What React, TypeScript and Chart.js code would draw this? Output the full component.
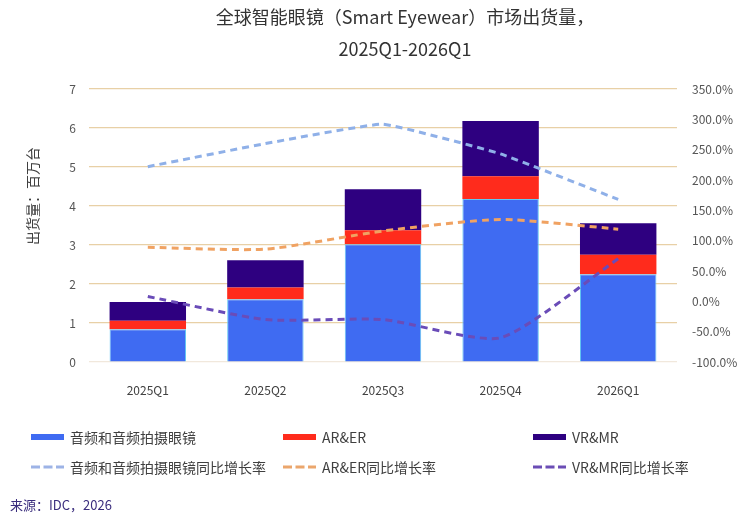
import React, { useEffect, useRef } from 'react';
import { Chart, registerables } from 'chart.js';

Chart.register(...registerables);

const quarters = ['2025Q1', '2025Q2', '2025Q3', '2025Q4', '2026Q1'];

// shipments, millions of units
const audioGlasses = [0.84, 1.61, 3.02, 4.18, 2.25];
const arEr = [0.22, 0.3, 0.36, 0.58, 0.5];
const vrMr = [0.48, 0.7, 1.05, 1.42, 0.81];

// year-over-year growth, %
const audioGrowth = [222, 260, 292, 243, 168];
const arErGrowth = [89, 86, 116, 135, 119];
const vrMrGrowth = [8, -30, -30, -60, 70];

const leftTicks = [0, 1, 2, 3, 4, 5, 6, 7];
const rightTicks = [-100, -50, 0, 50, 100, 150, 200, 250, 300, 350];

const FONT = '"Noto Sans CJK SC", "Noto Sans", sans-serif';

const legendItems = [
  { label: '音频和音频拍摄眼镜', color: '#3F6BF2', kind: 'bar', col: 0, row: 0 },
  { label: 'AR&ER', color: '#FF2B1C', kind: 'bar', col: 1, row: 0 },
  { label: 'VR&MR', color: '#2E0080', kind: 'bar', col: 2, row: 0 },
  { label: '音频和音频拍摄眼镜同比增长率', color: '#9DB3E6', kind: 'line', col: 0, row: 1 },
  { label: 'AR&ER同比增长率', color: '#EBA66C', kind: 'line', col: 1, row: 1 },
  { label: 'VR&MR同比增长率', color: '#6B4DB5', kind: 'line', col: 2, row: 1 },
];
const legendCols = [31, 283, 533];
const legendRows = [437, 467];

const App: React.FC = () => {
  const canvasRef = useRef<HTMLCanvasElement>(null);
  const chartRef = useRef<Chart | null>(null);

  useEffect(() => {
    if (!canvasRef.current) return;
    const ctx = canvasRef.current.getContext('2d');
    if (!ctx) return;
    if (chartRef.current) chartRef.current.destroy();

    const lineStyle = (color: string, tension: number) => ({
      type: 'line' as const,
      yAxisID: 'y1',
      borderColor: color,
      backgroundColor: color,
      borderWidth: 3,
      borderDash: [7, 5],
      pointRadius: 0,
      tension,
      fill: false,
      order: 0,
    });

    chartRef.current = new Chart(ctx, {
      type: 'bar',
      data: {
        labels: quarters,
        datasets: [
          { ...lineStyle('#8FB0E8', 0.1), label: '音频和音频拍摄眼镜同比增长率', data: audioGrowth },
          { ...lineStyle('#F0A262', 0.2), label: 'AR&ER同比增长率', data: arErGrowth },
          { ...lineStyle('#6A4CB8', 0.2), label: 'VR&MR同比增长率', data: vrMrGrowth },
          {
            type: 'bar',
            label: '音频和音频拍摄眼镜',
            data: audioGlasses,
            backgroundColor: '#3F6BF2',
            borderColor: '#62C6F2',
            borderWidth: 1,
            stack: 's',
            order: 1,
            barPercentage: 0.65,
            categoryPercentage: 1,
          },
          {
            type: 'bar',
            label: 'AR&ER',
            data: arEr,
            backgroundColor: '#FF2B1C',
            stack: 's',
            order: 1,
            barPercentage: 0.65,
            categoryPercentage: 1,
          },
          {
            type: 'bar',
            label: 'VR&MR',
            data: vrMr,
            backgroundColor: '#2E0080',
            stack: 's',
            order: 1,
            barPercentage: 0.65,
            categoryPercentage: 1,
          },
        ],
      },
      options: {
        responsive: false,
        animation: false,
        layout: { padding: { top: 89, left: 0, right: 0, bottom: 116 } },
        plugins: {
          legend: { display: false },
          title: { display: false },
          tooltip: { enabled: false },
        },
        scales: {
          x: {
            stacked: true,
            grid: { display: false },
            border: { display: false },
            ticks: { padding: 13, color: '#404040', font: { family: FONT, size: 12 } },
            afterFit: (s: any) => { s.height = 40; },
          },
          y: {
            stacked: true,
            min: leftTicks[0],
            max: leftTicks[leftTicks.length - 1],
            afterBuildTicks: (s: any) => { s.ticks = leftTicks.map((v) => ({ value: v })); },
            grid: {
              drawTicks: false,
              color: (c: any) => (c.tick && c.tick.value === 0 ? '#F1E8DC' : '#E8D0A6'),
              lineWidth: 1.2,
            },
            border: { display: false },
            ticks: { padding: 13, color: '#555555', font: { family: FONT, size: 12 } },
            afterFit: (s: any) => { s.width = 89; },
          },
          y1: {
            position: 'right',
            min: rightTicks[0],
            max: rightTicks[rightTicks.length - 1],
            afterBuildTicks: (s: any) => { s.ticks = rightTicks.map((v) => ({ value: v })); },
            grid: { display: false, drawTicks: false },
            border: { display: false },
            ticks: {
              padding: 15,
              color: '#555555',
              font: { family: FONT, size: 12 },
              callback: (v: any) => `${Number(v).toFixed(1)}%`,
            },
            afterFit: (s: any) => { s.width = 79; },
          },
        },
      },
    });

    return () => {
      if (chartRef.current) {
        chartRef.current.destroy();
        chartRef.current = null;
      }
    };
  }, []);

  return (
    <div style={{ position: 'absolute', left: 0, top: 0, width: 756, height: 518, background: '#fff', fontFamily: FONT, overflow: 'hidden' }}>
      <canvas ref={canvasRef} width={756} height={518} style={{ position: 'absolute', left: 0, top: 0 }} />
      <div style={{ position: 'absolute', left: 155, top: 0, width: 500, textAlign: 'center', fontSize: 18, lineHeight: '32px', color: '#333333' }}>
        全球智能眼镜（Smart Eyewear）市场出货量，
        <br />
        2025Q1-2026Q1
      </div>
      <div style={{ position: 'absolute', left: 32, top: 196, transform: 'translate(-50%, -50%) rotate(-90deg)', whiteSpace: 'nowrap', fontSize: 14, color: '#404040' }}>
        出货量：百万台
      </div>
      {legendItems.map((it) => (
        <div key={it.label} style={{ position: 'absolute', left: legendCols[it.col], top: legendRows[it.row] - 10, height: 20, display: 'flex', alignItems: 'center', whiteSpace: 'nowrap' }}>
          {it.kind === 'bar' ? (
            <div style={{ width: 33, height: 6, background: it.color }} />
          ) : (
            <svg width={33} height={4} style={{ display: 'block' }}>
              <line x1={0} y1={2} x2={33} y2={2} stroke={it.color} strokeWidth={3} strokeDasharray="9 3.5" />
            </svg>
          )}
          <span style={{ marginLeft: 6, fontSize: 14, color: '#404040' }}>{it.label}</span>
        </div>
      ))}
      <div style={{ position: 'absolute', left: 10, top: 496, fontSize: 13, lineHeight: '18px', color: '#3A2D7D' }}>
        来源：IDC，2026
      </div>
    </div>
  );
};

export default App;
